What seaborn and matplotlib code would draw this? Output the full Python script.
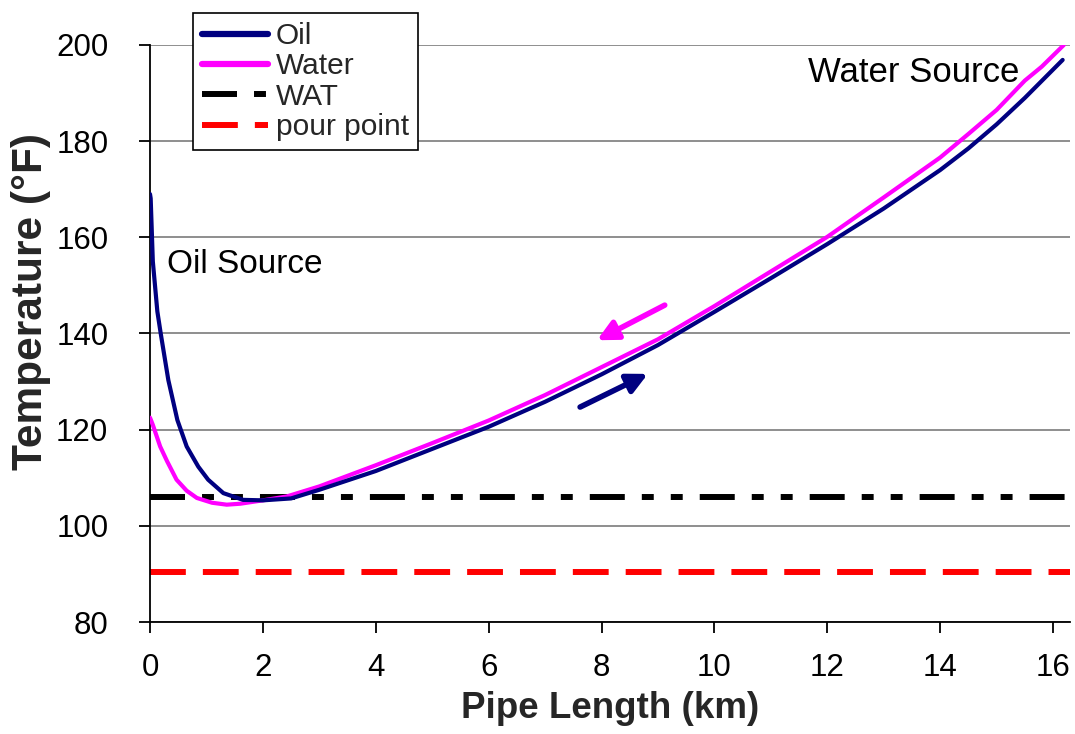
import matplotlib
matplotlib.use("Agg")
import matplotlib.pyplot as plt
import seaborn as sns
import pandas as pd

# ---- data ----
oil_x = [0.0, 0.012, 0.05, 0.13, 0.19, 0.325, 0.485, 0.65, 0.856, 1.03, 1.30, 1.65,
         2.0, 2.5, 3.0, 4.0, 5.0, 6.0, 7.0, 8.0, 9.0, 10.0, 11.0, 12.0, 13.0, 14.0, 14.5, 15.0, 15.5, 16.17]
oil_T = [169.0, 168.1, 155.0, 144.6, 140.0, 130.3, 122.0, 116.5, 112.3, 109.6, 106.8, 105.4,
         105.3, 105.7, 107.5, 111.4, 116.0, 120.6, 125.8, 131.5, 137.6, 144.5, 151.5, 158.6, 166.0, 174.0, 178.5, 183.5, 189.0, 196.9]

water_x = [0.0, 0.05, 0.18, 0.30, 0.47, 0.65, 0.83, 1.1, 1.36, 1.6, 2.0, 2.42, 3.0, 4.0, 5.0, 6.0,
           7.0, 8.0, 9.0, 10.0, 11.0, 12.0, 13.0, 14.0, 14.5, 15.0, 15.5, 15.8, 16.19]
water_T = [122.5, 121.0, 116.5, 113.5, 109.6, 107.3, 105.8, 104.8, 104.4, 104.6, 105.3, 106.1, 108.2, 112.6,
           117.2, 121.9, 127.2, 133.0, 138.8, 145.7, 152.9, 160.1, 168.3, 176.6, 181.5, 186.5, 192.6, 195.5, 200.0]

wat_T = 106.0
pour_point_T = 90.5

x_ticks = [0, 2, 4, 6, 8, 10, 12, 14, 16]
y_ticks = [80, 100, 120, 140, 160, 180, 200]

oil_df = pd.DataFrame({"x": oil_x, "T": oil_T})
water_df = pd.DataFrame({"x": water_x, "T": water_T})

sns.set_theme(style="white")
plt.rcParams["font.family"] = ["Liberation Sans", "DejaVu Sans"]

fig = plt.figure(figsize=(10.75, 7.34), dpi=100)
ax = fig.add_axes([150 / 1075, 1 - 622 / 734, (1070 - 150) / 1075, (622 - 45) / 734])

ax.set_xlim(0, 16.3)
ax.set_ylim(80, 200)
ax.set_yticks(y_ticks)
ax.set_xticks(x_ticks)
ax.yaxis.grid(True, color="#707070", lw=1.1, zorder=0)
ax.xaxis.grid(False)
ax.set_axisbelow(True)

sns.lineplot(data=oil_df, x="x", y="T", ax=ax, color="#000080", lw=3.0, label="Oil", sort=False, zorder=4)
sns.lineplot(data=water_df, x="x", y="T", ax=ax, color="#FF00FF", lw=3.0, label="Water", sort=False, zorder=3)
ax.axhline(wat_T, color="black", lw=4.3, dashes=(5.86, 2.85, 2.0, 2.85, 2.0, 2.85), label="WAT", zorder=2)
ax.axhline(pour_point_T, color="#FF0000", lw=4.3, dashes=(6.0, 2.85), label="pour point", zorder=2)

for side in ["top", "right"]:
    ax.spines[side].set_visible(False)
for side in ["left", "bottom"]:
    ax.spines[side].set_color("black")
    ax.spines[side].set_linewidth(1.3)

ax.tick_params(axis="both", which="major", direction="out", length=8, width=1.3,
               color="black", labelsize=22.5, labelcolor="black", left=True, bottom=True)
ax.tick_params(axis="y", pad=22)
ax.tick_params(axis="x", pad=14)

ax.set_xlabel("Pipe Length (km)", fontsize=26.5, fontweight="bold", labelpad=6)
ax.set_ylabel("Temperature (°F)", fontsize=30.5, fontweight="bold")
ax.yaxis.set_label_coords(-0.108, 0.555)

ax.text(0.3, 154.3, "Oil Source", fontsize=24, va="center", ha="left", color="black")
ax.text(15.4, 194.2, "Water Source", fontsize=25, va="center", ha="right", color="black")

ax.annotate("", xy=(7.92, 138.6), xytext=(9.12, 145.9),
            arrowprops=dict(arrowstyle="-|>", color="#FF00FF", lw=4, mutation_scale=30, shrinkA=0, shrinkB=0))
ax.annotate("", xy=(8.82, 131.6), xytext=(7.62, 124.7),
            arrowprops=dict(arrowstyle="-|>", color="#000080", lw=4, mutation_scale=30, shrinkA=0, shrinkB=0))

leg = ax.legend(loc="upper left", bbox_to_anchor=(193 / 1075, 1 - 13 / 734), bbox_transform=fig.transFigure,
                fontsize=21.5, frameon=True, fancybox=False, shadow=False, borderaxespad=0,
                handlelength=2.2, handletextpad=0.28, labelspacing=0.08, borderpad=0.3)
leg.get_frame().set_edgecolor("black")
leg.get_frame().set_linewidth(1.2)
leg.get_frame().set_facecolor("white")
leg.get_frame().set_alpha(1)
for h in leg.get_lines()[:2]:
    h.set_linewidth(4.5)

fig.savefig("out.png", dpi=100)
